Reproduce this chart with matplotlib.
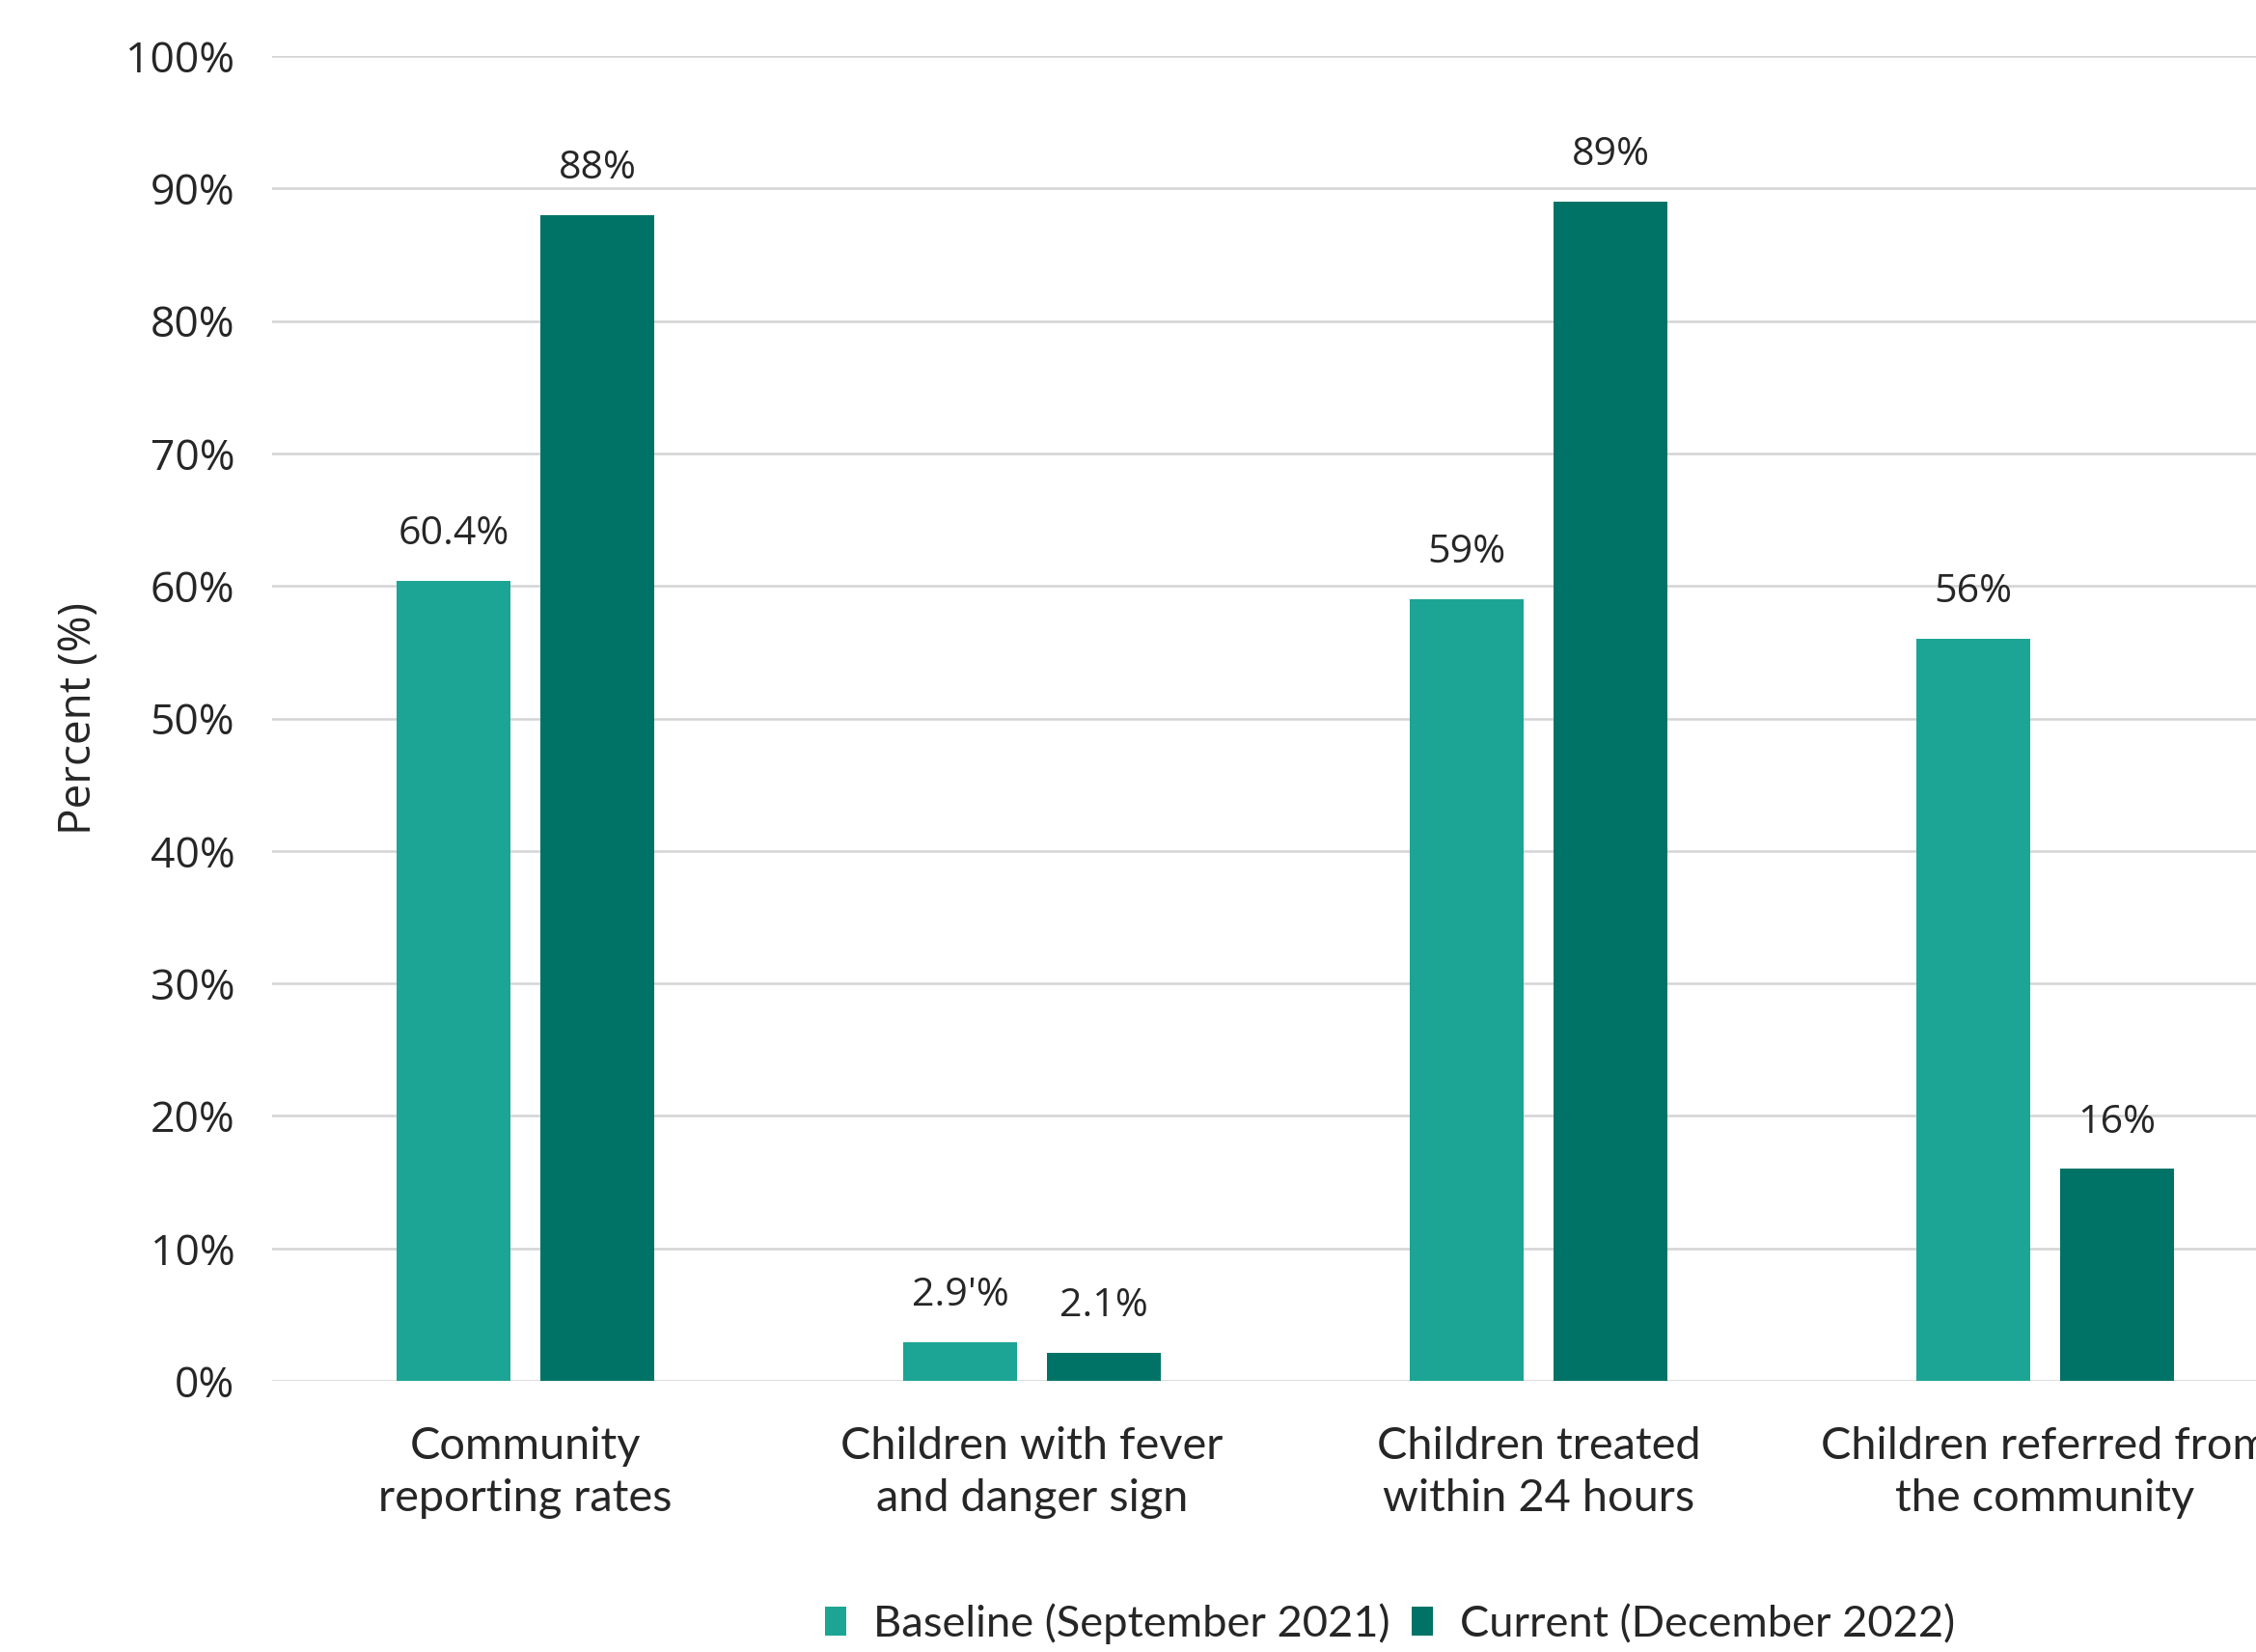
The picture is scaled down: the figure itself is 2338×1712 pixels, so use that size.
import matplotlib
matplotlib.use("Agg")
import matplotlib.pyplot as plt
import numpy as np

categories = ["Community\nreporting rates", "Children with fever\nand danger sign",
              "Children treated\nwithin 24 hours", "Children referred from\nthe community"]
baseline = [60.4, 2.9, 59, 56]
current = [88, 2.1, 89, 16]
baseline_labels = ["60.4%", "2.9'%", "59%", "56%"]
current_labels = ["88%", "2.1%", "89%", "16%"]
series_names = ["Baseline (September 2021)", "Current (December 2022)"]
yticks = [0, 10, 20, 30, 40, 50, 60, 70, 80, 90, 100]

c_base = "#1CA594"
c_cur = "#007366"
txt = "#262626"

fig = plt.figure(figsize=(2338/200, 1712/200), dpi=200)
ax = fig.add_axes([0.1207, 0.1641, 0.898, 0.802])

x = np.arange(len(categories))
w = 0.225
off = 0.142
b1 = ax.bar(x - off, baseline, w, color=c_base, label=series_names[0], zorder=3)
b2 = ax.bar(x + off, current, w, color=c_cur, label=series_names[1], zorder=3)

for bars, labs in ((b1, baseline_labels), (b2, current_labels)):
    for r, lab in zip(bars, labs):
        ax.annotate(lab, (r.get_x() + r.get_width()/2, r.get_height()),
                    xytext=(0, 10), textcoords="offset points",
                    ha="center", va="bottom", fontsize=14.8, color=txt,
                    family="Open Sans")

ax.set_xlim(-0.5, 3.5)
ax.set_ylim(0, 100)
ax.set_yticks(yticks)
ax.set_yticklabels([f"{t}%" for t in yticks], fontsize=16, color=txt, family="Open Sans")
ax.set_xticks(x)
ax.set_xticklabels(categories, fontsize=16.9, color=txt, family="Lato", linespacing=1.35)
ax.tick_params(axis="y", length=0, pad=14)
ax.tick_params(axis="x", length=0, pad=17)
ax.grid(axis="y", color="#d4d4d4", linewidth=0.9, zorder=0)
for s in ax.spines.values():
    s.set_visible(False)
ax.set_ylabel("Percent (%)", fontsize=16.5, color=txt, family="Open Sans", labelpad=9)

leg = fig.legend(handles=[b1, b2], labels=series_names, loc="center",
                 bbox_to_anchor=(0.616, 0.017), ncol=2, frameon=False,
                 prop={"family": "Lato", "size": 16.3}, handlelength=0.5,
                 handleheight=0.65, handletextpad=0.6, columnspacing=0.5)
for t in leg.get_texts():
    t.set_color(txt)

fig.savefig("out.png", dpi=200)
